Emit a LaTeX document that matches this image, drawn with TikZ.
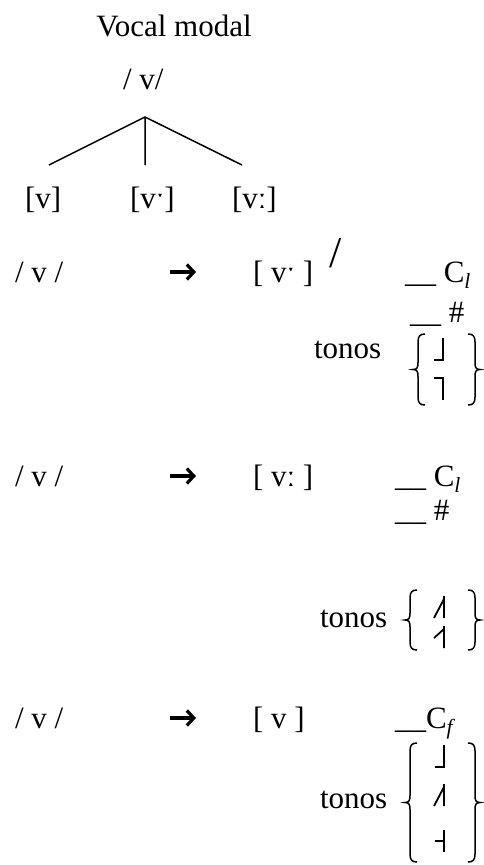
\documentclass[tikz,border=0pt]{standalone}
\usepackage{fontspec}
\setmainfont{Liberation Serif}
\usetikzlibrary{arrows.meta}
\tikzset{
  txt/.style={inner sep=0pt, outer sep=0pt, anchor=base west, font=\fontsize{31}{36}\selectfont},
  treeline/.style={line width=1.5pt},
  arr/.style={line width=3.2pt, -{Straight Barb[length=7pt,width=15pt]}},
  brc/.style={line width=1.5pt},
  tone/.style={line width=1.8pt, line join=miter, line cap=butt},
}
% brace macros: #1 x of vertical stroke, #2 top y, #3 bottom y
\newcommand{\braceL}[3]{%
 \draw[brc] ({#1+7},#2) .. controls ({#1+2},#2) and (#1,{#2+2}) .. (#1,{#2+8})
   -- (#1,{(#2+#3)/2-7}) .. controls (#1,{(#2+#3)/2-2}) and ({#1-1},{(#2+#3)/2}) .. ({#1-5},{(#2+#3)/2})
   .. controls ({#1-1},{(#2+#3)/2}) and (#1,{(#2+#3)/2+2}) .. (#1,{(#2+#3)/2+7})
   -- (#1,{#3-8}) .. controls (#1,{#3-2}) and ({#1+2},#3) .. ({#1+7},#3);}
\newcommand{\braceR}[3]{%
 \draw[brc] ({#1-7},#2) .. controls ({#1-2},#2) and (#1,{#2+2}) .. (#1,{#2+8})
   -- (#1,{(#2+#3)/2-7}) .. controls (#1,{(#2+#3)/2-2}) and ({#1+1},{(#2+#3)/2}) .. ({#1+5},{(#2+#3)/2})
   .. controls ({#1+1},{(#2+#3)/2}) and (#1,{(#2+#3)/2+2}) .. (#1,{(#2+#3)/2+7})
   -- (#1,{#3-8}) .. controls (#1,{#3-2}) and ({#1-2},#3) .. ({#1-7},#3);}
% tone letters: #1 x of bar, #2 top y
\newcommand{\toneL}[2]{\draw[tone] ({#1-9},{#2+22}) -- (#1,{#2+22}) -- (#1,#2);}
\newcommand{\toneH}[2]{\draw[tone] ({#1-9},#2) -- (#1,#2) -- (#1,{#2+22});}
\newcommand{\toneM}[2]{\draw[tone] (#1,#2) -- (#1,{#2+22}) ({#1-9},{#2+11}) -- (#1,{#2+11});}
\newcommand{\toneLH}[2]{\draw[tone] ({#1-10},{#2+22}) -- (#1,{#2+3}) (#1,#2) -- (#1,{#2+22});}
\newcommand{\toneMH}[2]{\draw[tone] ({#1-10},{#2+12}) -- (#1,{#2+3}) (#1,#2) -- (#1,{#2+22});}
\begin{document}
\begin{tikzpicture}[x=1pt,y=-1pt]
\useasboundingbox (0,0) rectangle (484,865);
% tree
\node[txt, anchor=base] (title) at (174,36) {Vocal modal};
\node[txt] (root) at (123,89) {/ v/};
\coordinate (apex) at (145,117);
\coordinate (e1) at (49,165);
\coordinate (e2) at (145,165);
\coordinate (e3) at (242,165);
\draw[treeline] (e1) -- (apex) -- (e3) (apex) -- (e2);
\node[txt] (c1) at (25,208) {[v]};
\node[txt] (c2) at (130,208) {[vˑ]};
\node[txt] (c3) at (232,208) {[vː]};
% rule 1
\node[txt] (r1a) at (15,282) {/ v /};
\coordinate (r1s) at (170,272);
\coordinate (r1e) at (196,272);
\draw[arr] (r1s) -- (r1e);
\node[txt] (r1b) at (253,282) {[ vˑ ]};
\node[txt, font=\fontsize{44}{50}\selectfont] (r1sl) at (329,267) {/};
\node[txt] (r1c) at (405,282) {\_\_ C\textsubscript{\textit{l}}};
\node[txt] (r1d) at (410,322) {\_\_ \#};
\node[txt] (t1) at (314,358) {tonos};
\braceL{418}{334}{405}
\braceR{475}{334}{405}
\toneL{443}{338}
\toneH{443}{378}
% rule 2
\node[txt] (r2a) at (15,486) {/ v /};
\coordinate (r2s) at (170,476);
\coordinate (r2e) at (196,476);
\draw[arr] (r2s) -- (r2e);
\node[txt] (r2b) at (253,486) {[ vː ]};
\node[txt] (r2c) at (395,486) {\_\_ C\textsubscript{\textit{l}}};
\node[txt] (r2d) at (395,520) {\_\_ \#};
\node[txt] (t2) at (320,627) {tonos};
\braceL{410}{590}{650}
\braceR{475}{590}{650}
\toneLH{444}{596}
\toneMH{444}{626}
% rule 3
\node[txt] (r3a) at (15,728) {/ v /};
\coordinate (r3s) at (170,718);
\coordinate (r3e) at (196,718);
\draw[arr] (r3s) -- (r3e);
\node[txt] (r3b) at (253,728) {[ v ]};
\node[txt] (r3c) at (395,728) {\_\_C\textsubscript{\textit{f}}};
\node[txt] (t3) at (320,808) {tonos};
\braceL{410}{743}{862}
\braceR{475}{743}{862}
\toneL{444}{745}
\toneLH{444}{784}
\toneM{444}{830}
\end{tikzpicture}
\end{document}
